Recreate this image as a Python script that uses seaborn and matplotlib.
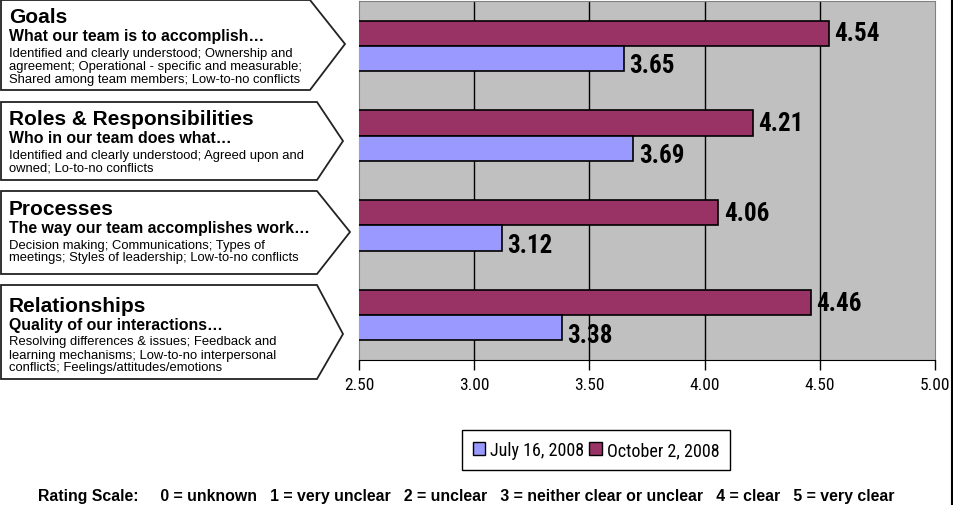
import pandas as pd
import matplotlib.pyplot as plt
import seaborn as sns
from matplotlib.patches import Polygon, Patch
from matplotlib import font_manager

sns.set_style("white")

# data
categories = ["Goals", "Roles & Responsibilities", "Processes", "Relationships"]
subtitles = ["What our team is to accomplish\u2026",
             "Who in our team does what\u2026",
             "The way our team accomplishes work\u2026",
             "Quality of our interactions\u2026"]
descriptions = [
    ["Identified and clearly understood; Ownership and",
     "agreement; Operational - specific and measurable;",
     "Shared among team members; Low-to-no conflicts"],
    ["Identified and clearly understood; Agreed upon and",
     "owned; Lo-to-no conflicts"],
    ["Decision making; Communications; Types of",
     "meetings; Styles of leadership; Low-to-no conflicts"],
    ["Resolving differences & issues; Feedback and",
     "learning mechanisms; Low-to-no interpersonal",
     "conflicts; Feelings/attitudes/emotions"],
]
july_scores = [3.65, 3.69, 3.12, 3.38]
october_scores = [4.54, 4.21, 4.06, 4.46]
series_names = ["July 16, 2008", "October 2, 2008"]
x_ticks = [2.5, 3.0, 3.5, 4.0, 4.5, 5.0]
rating_text = ("Rating Scale:     0 = unknown   1 = very unclear   2 = unclear   "
               "3 = neither clear or unclear   4 = clear   5 = very clear")

colors = {"July 16, 2008": "#9999FF", "October 2, 2008": "#993366"}

plt.rcParams["font.family"] = ["Liberation Sans", "DejaVu Sans"]
plt.rcParams["text.color"] = "black"
plt.rcParams["xtick.color"] = "black"


def find_narrow(bold):
    # look for an installed condensed / narrow sans face
    wanted = "bold" if bold else "normal"
    entries = font_manager.fontManager.ttflist
    prefs = ["Liberation Sans Narrow", "Roboto Condensed", "Open Sans Condensed", "DejaVu Sans"]
    for name in prefs:
        for f in entries:
            if f.name != name or f.style != "normal":
                continue
            if name == "DejaVu Sans" and f.stretch == "normal":
                continue
            w = f.weight
            is_bold = (w == "bold") or (isinstance(w, int) and w >= 600)
            if is_bold == bold:
                return font_manager.FontProperties(fname=f.fname)
    return font_manager.FontProperties(family="Liberation Sans", weight=wanted)


narrow_reg = find_narrow(False)
narrow_bold = find_narrow(True)

df = pd.DataFrame({
    "category": categories * 2,
    "score": july_scores + october_scores,
    "date": [series_names[0]] * 4 + [series_names[1]] * 4,
})

W, H = 954, 506
fig = plt.figure(figsize=(W / 100, H / 100), dpi=100)

# overlay for the arrow boxes and decoration, in pixel coords
ov = fig.add_axes([0, 0, 1, 1])
ov.set_xlim(0, W)
ov.set_ylim(H, 0)
ov.axis("off")

boxes = [(1, 91, 310, 345, 45), (103, 181, 317, 343, 142),
         (192, 275, 317, 350, 233), (286, 380, 317, 343, 335)]
title_base = [23, 125, 215, 312]
for i, (top, bot, corner, tip, tipy) in enumerate(boxes):
    poly = Polygon([(1, top), (corner, top), (tip, tipy), (corner, bot), (1, bot)],
                   closed=True, facecolor="white", edgecolor="#222222", lw=1.3)
    ov.add_patch(poly)
    yb = title_base[i]
    ov.text(9, yb, categories[i], fontsize=15, fontweight="bold", va="baseline", ha="left")
    ov.text(9, yb + 13.5, subtitles[i], fontsize=11.4, fontweight="bold", va="center", ha="left")
    for j, line in enumerate(descriptions[i]):
        ov.text(9, yb + 30.5 + 13 * j, line, fontsize=9.4, va="center", ha="left")

ov.plot([952, 952], [0, H], color="black", lw=1.5)

# main chart
ax = fig.add_axes([359 / W, 1 - 361 / H, (935 - 359) / W, (361 - 2) / H])
ax.set_facecolor("#C0C0C0")
sns.barplot(data=df, y="category", x="score", hue="date",
            hue_order=[series_names[1], series_names[0]], palette=colors,
            saturation=1, orient="h", width=0.56, edgecolor="black", linewidth=1.2,
            legend=False, ax=ax, zorder=3)
ax.set_xlim(2.5, 5.0)
ax.set_xticks(x_ticks)
ax.set_xticklabels([f"{t:.2f}" for t in x_ticks], fontproperties=narrow_reg, fontsize=12.5)
ax.set_yticks([])
ax.set_xlabel("")
ax.set_ylabel("")
ax.xaxis.grid(True, color="black", lw=1, zorder=0)
ax.set_axisbelow(True)
for gl in ax.get_xgridlines()[::5]:
    gl.set_visible(False)
ax.tick_params(axis="x", direction="out", length=7, width=1, color="black", pad=5, bottom=True)
for side in ["top", "right", "left"]:
    ax.spines[side].set_color("#808080")
ax.spines["bottom"].set_color("black")

for k, cont in enumerate(ax.containers):
    dy = 0 if k == 0 else -5
    for bar in cont:
        val = bar.get_width()
        ax.annotate(f"{val:.2f}", (val, bar.get_y() + bar.get_height() / 2),
                    xytext=(4, dy), textcoords="offset points", va="center", ha="left",
                    fontproperties=narrow_bold, fontsize=18)

handles = [Patch(facecolor=colors[n], edgecolor="black", lw=1) for n in series_names]
leg_prop = narrow_reg.copy()
leg_prop.set_size(13)
fig.legend(handles, series_names, loc="center", bbox_to_anchor=(596 / W, 1 - 451 / H),
           ncol=2, frameon=True, fancybox=False, edgecolor="black", framealpha=1,
           handlelength=0.7, handleheight=0.7, handletextpad=0.25, columnspacing=0.3,
           borderpad=0.6, borderaxespad=0, prop=leg_prop)

fig.text(38 / W, 1 - 497 / H, rating_text, fontsize=11.4, fontweight="bold", va="center", ha="left")

fig.savefig("out.png", dpi=100)
